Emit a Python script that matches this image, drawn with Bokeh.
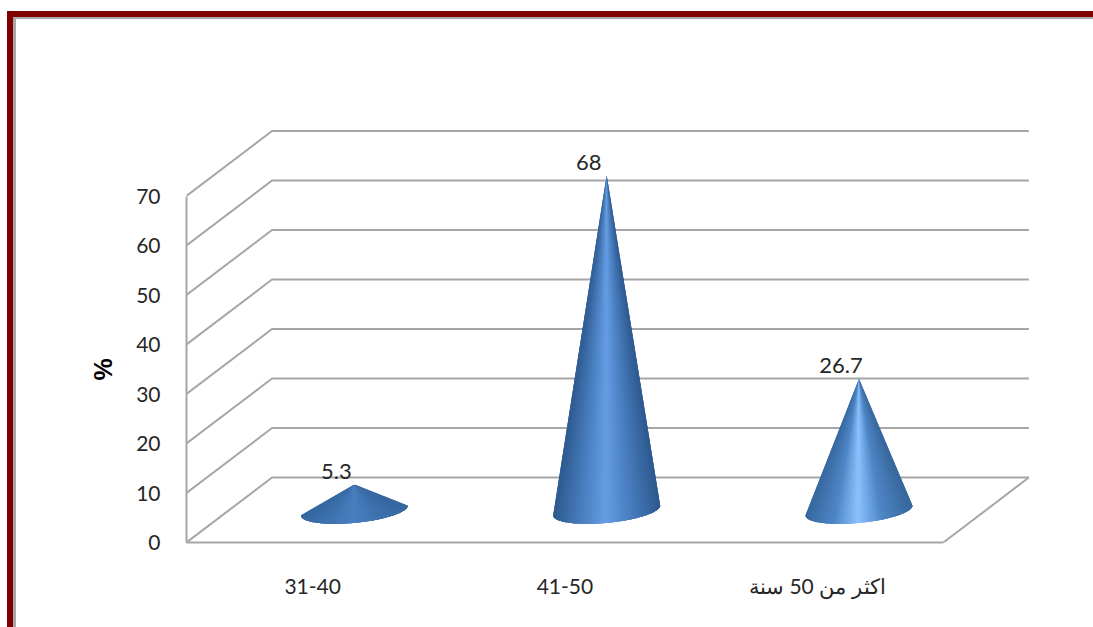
from bokeh.embed import file_html
from bokeh.models import FixedTicker, Range1d, Title
from bokeh.plotting import figure
from bokeh.resources import INLINE
from bokeh.core.properties import value
import numpy as np

categories = ["31-40", "41-50", "اكثر من 50 سنة"]
percent = [5.3, 68, 26.7]
value_ticks = [0, 10, 20, 30, 40, 50, 60, 70]

# Shading stops across each cone, from the left rim to the right rim.
cone_stops = [
    ["#37689f", "#3f74b2", "#4a80c0", "#3f74b2", "#37689f"],
    ["#2e5a90", "#4a7fc0", "#669ee4", "#4a7fc0", "#2e5a90"],
    ["#38699f", "#4f86c6", "#8cc2ff", "#4f86c6", "#38689c"],
]

PX_PER_CATEGORY = 252.3
PX_PER_UNIT = 4.95
CONE_SCALE = 0.995  # cones stand mid-way into the floor, so they render a little shorter
LEFT, BOTTOM, WIDTH, HEIGHT = 186, 85, 1093, 627
GRID = "#a6a6a6"

# Depth of the floor expressed in axis units.
depth_x = 85.5 / PX_PER_CATEGORY
depth_y = 65 / PX_PER_UNIT

# Slide border along the top and left edges, painted behind a transparent canvas.
def band(colour):
    return f"linear-gradient({colour},{colour})"

p = figure(
    width=WIDTH,
    height=HEIGHT,
    output_backend="svg",
    toolbar_location=None,
    x_range=Range1d(0, (WIDTH - LEFT) / PX_PER_CATEGORY),
    y_range=Range1d(0, (HEIGHT - BOTTOM) / PX_PER_UNIT),
    min_border_left=LEFT,
    min_border_right=0,
    min_border_top=0,
    min_border_bottom=BOTTOM,
    outline_line_color=None,
    border_fill_color=None,
    background_fill_color=None,
)
p.styles = {
    "background-image": ",".join([band("#800000"), band("#800000"), band("#a8a8a8"), band("#a8a8a8")]),
    "background-position": "7px 11px, 7px 11px, 13px 17px, 13px 17px",
    "background-size": "100% 6px, 6px 100%, 100% 2px, 3px 100%",
    "background-repeat": "no-repeat",
}
p.grid.visible = False

# Back wall and left wall rules.
for v in value_ticks:
    p.line([0, depth_x, len(categories) + depth_x], [v, v + depth_y, v + depth_y],
           line_color=GRID, line_width=2)
# Right edge of the floor.
p.line([len(categories), len(categories) + depth_x], [0, depth_y], line_color=GRID, line_width=2)

# Cones: each one is a fan of narrow triangles running from the apex to the front of the base.
# Every triangle runs under its neighbour so no seams show between them.
tilt = np.radians(-5)
semi_major, semi_minor = 53.7, 12.6
angles = np.linspace(np.pi, 0, 91)
for i, (v, stops) in enumerate(zip(percent, cone_stops)):
    cx = i + 0.5 + depth_x / 2 - 0.004
    cy = depth_y / 2 - 0.1
    apex = cy + v * CONE_SCALE
    ex = semi_major * np.cos(angles) * np.cos(tilt) + semi_minor * np.sin(angles) * np.sin(tilt)
    ey = semi_major * np.cos(angles) * np.sin(tilt) + semi_minor * np.sin(angles) * np.cos(tilt)
    bx = cx + ex / PX_PER_CATEGORY
    by = cy - ey / PX_PER_UNIT
    rgb = np.array([[int(c[j:j + 2], 16) for j in (1, 3, 5)] for c in stops], dtype=float)
    pos = np.array([-1, -0.45, 0, 0.45, 1])
    xs, ys, fills = [], [], []
    last = len(angles) - 1
    for k in range(last):
        u = (np.cos(angles[k]) + np.cos(angles[k + 1])) / 2
        r, g, b = (np.interp(u, pos, rgb[:, c]) for c in range(3))
        end = min(k + 3, last)
        xs.append([cx] + list(bx[k:end + 1]))
        ys.append([apex] + list(by[k:end + 1]))
        fills.append("#%02x%02x%02x" % (int(r), int(g), int(b)))
    p.patches(xs, ys, fill_color=fills, line_color=None)
    p.text([cx], [apex], text=[str(v)], x_offset=-18, y_offset=-13,
           text_align="center", text_baseline="middle", text_color="#262626",
           text_font=value("Lato"), text_font_size="22px")

# Axes.
p.yaxis.ticker = FixedTicker(ticks=value_ticks)
p.yaxis.bounds = (0, 70)
p.yaxis.axis_line_color = GRID
p.yaxis.axis_line_width = 2
p.yaxis.major_tick_line_color = None
p.yaxis.minor_tick_line_color = None
p.yaxis.major_tick_out = 0
p.yaxis.major_tick_in = 0
p.yaxis.major_label_standoff = 26
p.yaxis.major_label_text_font = "Lato"
p.yaxis.major_label_text_font_size = "21px"
p.yaxis.major_label_text_color = "#262626"

p.xaxis.ticker = FixedTicker(ticks=[i + 0.5 for i in range(len(categories))])
p.xaxis.major_label_overrides = {i + 0.5: c for i, c in enumerate(categories)}
p.xaxis.bounds = (0, len(categories))
p.xaxis.axis_line_color = GRID
p.xaxis.axis_line_width = 2
p.xaxis.major_tick_line_color = None
p.xaxis.minor_tick_line_color = None
p.xaxis.major_tick_out = 0
p.xaxis.major_tick_in = 0
p.xaxis.major_label_standoff = 30
p.xaxis.major_label_text_font = "Lato"
p.xaxis.major_label_text_font_size = "21px"
p.xaxis.major_label_text_color = "#262626"

# Value-axis title sits beside the lower half of the axis.
p.add_layout(Title(text="%", align="left", offset=162, standoff=33,
                   text_font="Liberation Sans", text_font_style="bold",
                   text_font_size="25px", text_color="#000000"), "left")

with open("out.html", "w") as fh:
    fh.write(file_html(p, INLINE))
